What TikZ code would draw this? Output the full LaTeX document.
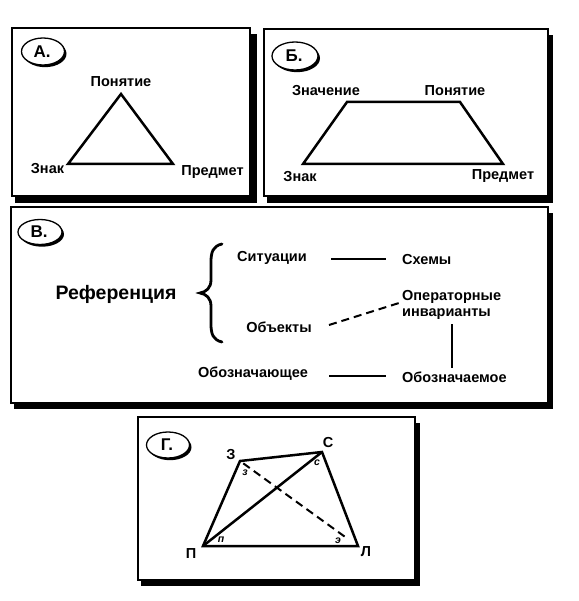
\documentclass[tikz,border=0pt]{standalone}
\usepackage{fontspec}
\setmainfont{Liberation Sans}
\usetikzlibrary{calc}
\begin{document}
\begin{tikzpicture}[x=1pt,y=-1pt,
  lbl/.style={font=\fontsize{14.5}{16}\selectfont\bfseries, inner sep=0pt},
  big/.style={font=\fontsize{19.5}{21}\selectfont\bfseries, inner sep=0pt},
  small/.style={font=\fontsize{10.5}{11}\selectfont\bfseries\itshape, inner sep=0pt},
  tag/.style={font=\fontsize{17}{18}\selectfont\bfseries, inner sep=0pt},
  panel/.style={draw=black, line width=1.4pt, fill=white},
  edge/.style={line width=2.5pt, line join=miter},
  link/.style={line width=1.8pt},
  dlink/.style={line width=2pt, dash pattern=on 8pt off 5pt}]
\useasboundingbox (0,0) rectangle (578,601);
\fill[white] (0,0) rectangle (578,601);

% ---------- panel boxes with shadows ----------
\fill (15,34) rectangle (257,203);
\draw[panel] (12,28) rectangle (250,196);
\fill (267,35) rectangle (553,203);
\draw[panel] (264,29) rectangle (548,196);
\fill (14,213) rectangle (553,409);
\draw[panel] (11,207) rectangle (548,403);
\fill (141,423) rectangle (420,586);
\draw[panel] (138,417) rectangle (415,580);

% ---------- tag ellipses ----------
\newcommand{\tagell}[4]{%
  \fill (#1+2,#2+2.2) ellipse [x radius=#3, y radius=#4];
  \draw[line width=1.3pt, fill=white] (#1,#2) ellipse [x radius=#3, y radius=#4];
}
\tagell{43}{51.5}{21.5}{13.5}
\node[tag] (tA) at (42,51.5) {А.};
\tagell{295}{56}{23}{14}
\node[tag] (tB) at (294,56) {Б.};
\tagell{40}{232}{22}{12.5}
\node[tag] (tV) at (39,232) {В.};
\tagell{168}{445}{21.5}{13}
\node[tag] (tG) at (167,445) {Г.};

% ---------- A ----------
\coordinate (Ap) at (121,94);
\coordinate (Az) at (68,164);
\coordinate (Ar) at (173,164);
\draw[edge] (Ap) -- (Az) -- (Ar) -- cycle;
\node[lbl] (A1) at (121,82) {Понятие};
\node[lbl] (A2) at (47.5,169) {Знак};
\node[lbl] (A3) at (212.5,172) {Предмет};

% ---------- B ----------
\coordinate (Btl) at (347,102);
\coordinate (Btr) at (460,102);
\coordinate (Bbr) at (503,164);
\coordinate (Bbl) at (303,164);
\draw[edge] (Btl) -- (Btr) -- (Bbr) -- (Bbl) -- cycle;
\node[lbl] (B1) at (326,91) {Значение};
\node[lbl] (B2) at (455,91) {Понятие};
\node[lbl] (B3) at (300,177) {Знак};
\node[lbl] (B4) at (503,176) {Предмет};

% ---------- V ----------
\node[big] (ref) at (116,294) {Референция};
\draw[line width=2.8pt, line cap=round]
  (222,244) .. controls (213,246) and (211,252) .. (211,262)
  -- (211,280) .. controls (211,288) and (206,292) .. (200,293)
  .. controls (206,294) and (211,298) .. (211,306)
  -- (211,324) .. controls (211,334) and (213,340) .. (222,342);
\node[lbl] (sit) at (272,258) {Ситуации};
\node[lbl, anchor=west] (sch) at (402,260) {Схемы};
\node[lbl, anchor=west, align=left] (op) at (402,304.5) {Операторные\\инварианты};
\node[lbl] (obj) at (279,327) {Объекты};
\node[lbl] (oznt) at (253,374) {Обозначающее};
\node[lbl, anchor=west] (ozm) at (402,377) {Обозначаемое};
\coordinate (s1) at (331,259);
\coordinate (s2) at (386,259);
\draw[link] (s1) -- (s2);
\coordinate (d1) at (329,325);
\coordinate (d2) at (399,303);
\draw[dlink] (d1) -- (d2);
\coordinate (v1) at (452,324);
\coordinate (v2) at (452,368);
\draw[link] (v1) -- (v2);
\coordinate (o1) at (329,376);
\coordinate (o2) at (386,376);
\draw[link] (o1) -- (o2);

% ---------- G ----------
\coordinate (Z) at (240,461);
\coordinate (S) at (322,452);
\coordinate (P) at (203,546);
\coordinate (L) at (358,546);
\coordinate (Le) at (348,539);
\draw[edge] (Z) -- (S) -- (L) -- (P) -- cycle;
\draw[edge] (P) -- (S);
\draw[dlink, shorten <=4pt] (Z) -- (Le);
\node[lbl] (lZ) at (231,455) {З};
\node[lbl] (lS) at (328,443) {С};
\node[lbl] (lP) at (191,554) {П};
\node[lbl] (lL) at (366,552) {Л};
\node[small] (sz) at (245,473) {з};
\node[small] (ss) at (317,463) {с};
\node[small] (sp) at (221,540) {п};
\node[small] (se) at (338,541) {э};
\end{tikzpicture}
\end{document}
